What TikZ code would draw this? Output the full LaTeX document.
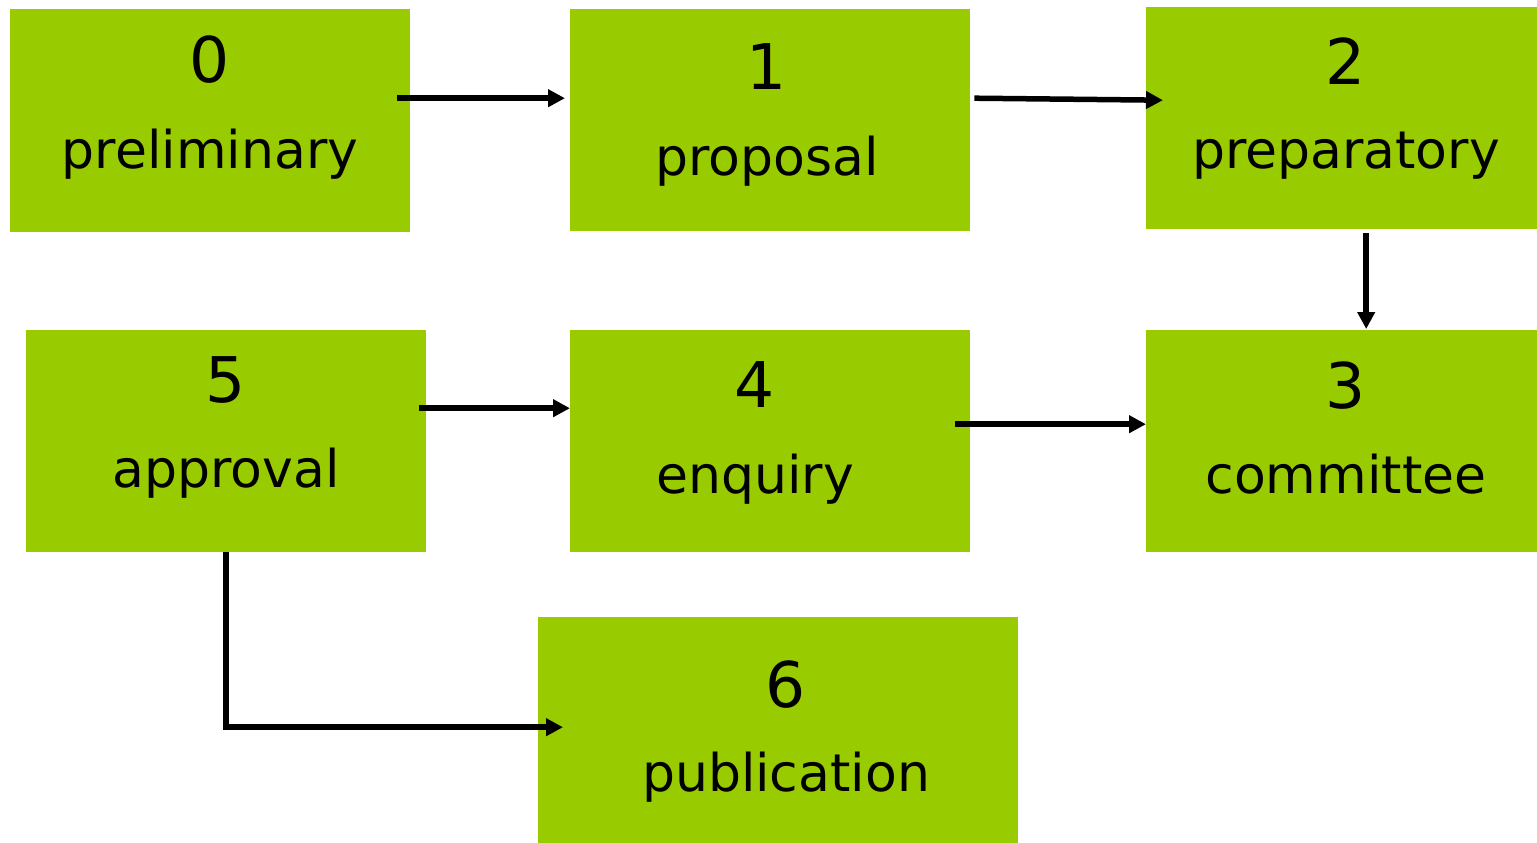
\documentclass[tikz,border=0pt]{standalone}
\usepackage{fontspec}
\setmainfont{DejaVu Sans}
\usetikzlibrary{arrows.meta,calc}
\definecolor{boxgreen}{HTML}{99CC00}
\begin{document}
\begin{tikzpicture}[x=1pt,y=-1pt,
  stagebox/.style={fill=boxgreen,draw=none,inner sep=0pt,anchor=north west},
  numtext/.style={inner sep=0pt,anchor=center,font=\fontsize{63}{70}\selectfont},
  wordtext/.style={inner sep=0pt,anchor=base,font=\fontsize{52}{60}\selectfont},
  arr/.style={line width=5.5pt,-{Triangle[length=17pt,width=17pt]}}]
\useasboundingbox (0,0) rectangle (1537,843);
% boxes
\node[stagebox,minimum width=400pt,minimum height=223pt] (b0) at (10,9) {};
\node[stagebox,minimum width=400pt,minimum height=222pt] (b1) at (570,9) {};
\node[stagebox,minimum width=391pt,minimum height=222pt] (b2) at (1146,7) {};
\node[stagebox,minimum width=391pt,minimum height=222pt] (b3) at (1146,330) {};
\node[stagebox,minimum width=400pt,minimum height=222pt] (b4) at (570,330) {};
\node[stagebox,minimum width=400pt,minimum height=222pt] (b5) at (26,330) {};
\node[stagebox,minimum width=480pt,minimum height=226pt] (b6) at (538,617) {};
% texts
\node[numtext] (n0) at (210,60) {0};
\node[wordtext] (w0) at (210,168) {preliminary};
\node[numtext] (n1) at (767,67) {1};
\node[wordtext] (w1) at (767,175) {proposal};
\node[numtext] (n2) at (1346,61) {2};
\node[wordtext] (w2) at (1346,168) {preparatory};
\node[numtext] (n5) at (226,380) {5};
\node[wordtext] (w5) at (226,487) {approval};
\node[numtext] (n4) at (755,385) {4};
\node[wordtext] (w4) at (755,493) {enquiry};
\node[numtext] (n3) at (1346,386) {3};
\node[wordtext] (w3) at (1346,493) {committee};
\node[numtext] (n6) at (786,685) {6};
\node[wordtext] (w6) at (786,791) {publication};
% connectors
\draw[arr] ([xshift=-13pt,yshift=22.5pt]b0.east) -- ([xshift=-5pt,yshift=22pt]b1.west);
\draw[arr] ([xshift=4pt,yshift=22pt]b1.east) -- ([xshift=17pt,yshift=18pt]b2.west);
\draw[arr] ([xshift=24.5pt,yshift=-4pt]b2.south) -- ([xshift=24.5pt,yshift=1pt]b3.north);
\draw[arr] ([xshift=-7pt,yshift=33pt]b5.east) -- ([yshift=33pt]b4.west);
\draw[arr] ([xshift=-15pt,yshift=17pt]b4.east) -- ([yshift=17pt]b3.west);
\draw[arr] (b5.south) |- ([xshift=25pt,yshift=3pt]b6.west);
\end{tikzpicture}
\end{document}
